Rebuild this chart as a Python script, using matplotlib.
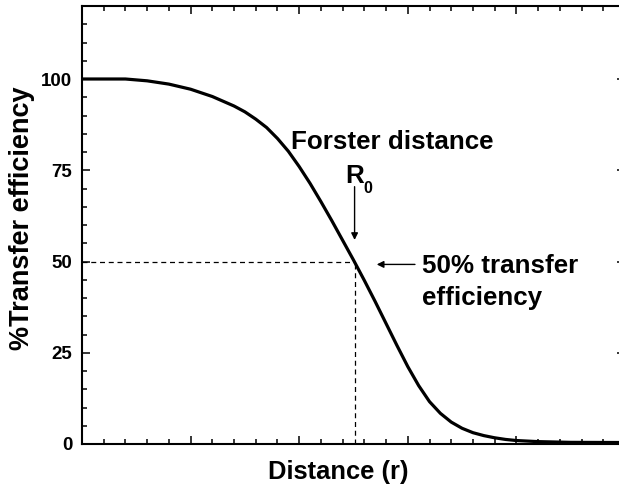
import matplotlib
matplotlib.use('Agg')
import matplotlib.pyplot as plt
from matplotlib.ticker import MultipleLocator

plt.rcParams['font.family'] = ['Liberation Sans', 'DejaVu Sans']
plt.rcParams['font.weight'] = 'bold'

# efficiency curve vs distance (arbitrary distance units)
distance = [0.0, 0.4, 0.6, 0.8, 1.0, 1.2, 1.4, 1.5, 1.6, 1.7, 1.8, 1.9, 2.0,
            2.1, 2.2, 2.3, 2.4, 2.5, 2.6, 2.7, 2.8, 2.9, 3.0, 3.1, 3.2, 3.3,
            3.4, 3.5, 3.6, 3.7, 3.8, 3.9, 4.0, 4.2, 4.5, 5.0]
efficiency = [100.0, 100.0, 99.5, 98.6, 97.2, 95.2, 92.6, 91.0, 89.0, 86.7,
              83.7, 80.2, 76.0, 71.4, 66.4, 61.2, 55.8, 50.4, 44.8, 39.0,
              33.0, 27.0, 21.2, 16.0, 11.6, 8.4, 6.0, 4.3, 3.1, 2.3, 1.7,
              1.25, 0.95, 0.65, 0.45, 0.4]
r0 = 2.51
half = 50
yticks = [0, 25, 50, 75, 100]

W, H = 619, 493
fig = plt.figure(figsize=(W / 100, H / 100), dpi=100)
ax = fig.add_axes([82 / W, (H - 444) / H, (625 - 82) / W, (444 - 6) / H])

ax.plot(distance, efficiency, color='black', lw=2.3, solid_joinstyle='round')

# guide lines at R0 / 50%
ax.plot([0, r0], [half, half], color='black', lw=0.9, linestyle=(0, (4, 3)))
ax.plot([r0, r0], [0, half], color='black', lw=0.9, linestyle=(0, (4, 3)))

ax.set_xlim(0, 5)
ax.set_ylim(0, 120)
ax.set_yticks(yticks)
ax.xaxis.set_major_locator(MultipleLocator(1))
ax.xaxis.set_minor_locator(MultipleLocator(0.2))
ax.yaxis.set_minor_locator(MultipleLocator(5))
ax.tick_params(which='both', direction='in', top=True, right=True,
               labelbottom=False, width=1.1)
ax.tick_params(which='major', length=5.8, labelsize=13.5, pad=7)
ax.tick_params(which='minor', length=3.6)
for lab in ax.get_yticklabels():
    lab.set_fontweight('bold')
for sp in ax.spines.values():
    sp.set_linewidth(1.5)

fig.text(22.5 / W, 1 - 218 / H, '%Transfer efficiency', rotation=90,
         ha='center', va='center', fontsize=19.5, fontweight='bold')
fig.text(338 / W, 1 - 472 / H, 'Distance (r)', ha='center', va='center',
         fontsize=18.4, fontweight='bold')

# annotations
fs = 18.7
ax.text(1.924, 80.7, 'Forster distance', fontsize=fs, fontweight='bold',
        ha='left', va='baseline')
ax.text(2.42, 71.4, 'R', fontsize=fs, fontweight='bold', ha='left', va='baseline')
ax.text(2.59, 68.8, '0', fontsize=11.5, fontweight='bold', ha='left', va='baseline')
ax.annotate('', xy=(r0, 55.9), xytext=(r0, 70.5),
            arrowprops=dict(arrowstyle='-|>', color='black', lw=1.0,
                            mutation_scale=10, shrinkA=0, shrinkB=0))
ax.annotate('', xy=(2.714, 49.2), xytext=(3.066, 49.2),
            arrowprops=dict(arrowstyle='-|>', color='black', lw=1.0,
                            mutation_scale=10, shrinkA=0, shrinkB=0))
ax.text(3.128, 46.8, '50% transfer', fontsize=fs, fontweight='bold',
        ha='left', va='baseline')
ax.text(3.128, 38.1, 'efficiency', fontsize=fs, fontweight='bold',
        ha='left', va='baseline')

fig.savefig('out.png', dpi=100)
